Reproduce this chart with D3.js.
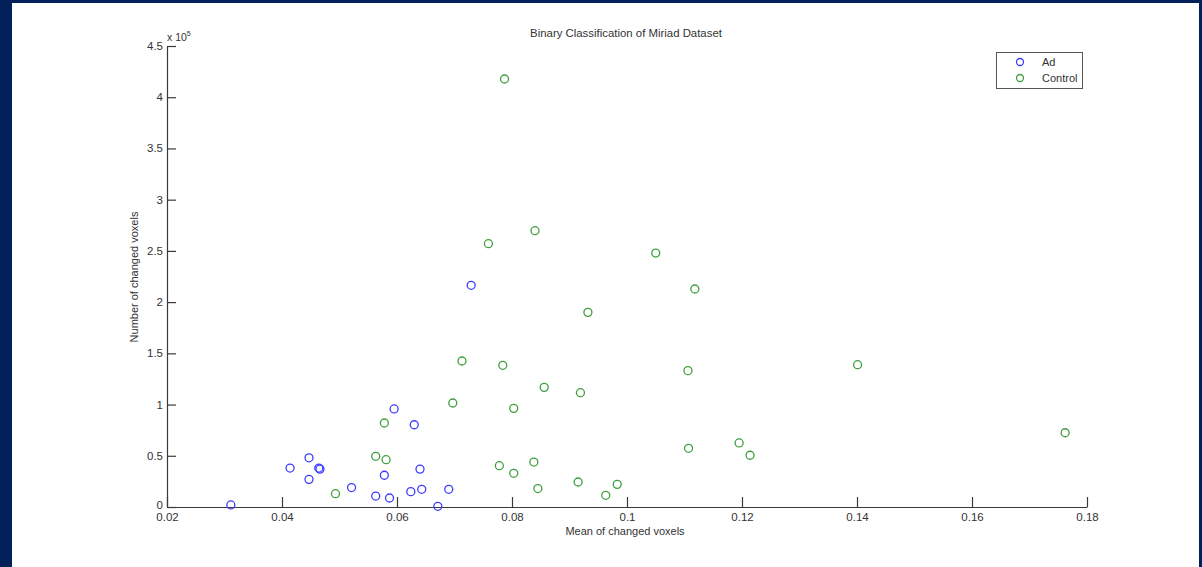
<!DOCTYPE html>
<html>
<head>
<meta charset="utf-8">
<script src="https://cdn.jsdelivr.net/npm/d3@7"></script>
<style>
  html, body { margin: 0; padding: 0; background: #fff; }
  svg { display: block; }
</style>
</head>
<body>
<svg id="chart" width="1202" height="567"></svg>
<script>
// Data (y values in units of 10^5 changed voxels)
const adX = [0.0311, 0.0414, 0.0447, 0.0447, 0.0464, 0.0466, 0.0521, 0.0563, 0.0578, 0.0587, 0.0595, 0.0630, 0.0624, 0.0640, 0.0643, 0.0671, 0.0690, 0.0729];
const adY = [0.02, 0.38, 0.48, 0.27, 0.38, 0.37, 0.19, 0.107, 0.31, 0.088, 0.957, 0.803, 0.15, 0.37, 0.173, 0.007, 0.173, 2.164];
const controlX = [0.0493, 0.0563, 0.0578, 0.0581, 0.0697, 0.0713, 0.0759, 0.0778, 0.0784, 0.0787, 0.0803, 0.0803, 0.0840, 0.0838, 0.0845, 0.0856, 0.0932, 0.0919, 0.0915, 0.0963, 0.0983, 0.1050, 0.1118, 0.1106, 0.1107, 0.1195, 0.1214, 0.1401, 0.1762];
const controlY = [0.13, 0.495, 0.82, 0.462, 1.015, 1.425, 2.57, 0.403, 1.383, 4.178, 0.963, 0.329, 2.697, 0.439, 0.18, 1.168, 1.90, 1.116, 0.244, 0.114, 0.221, 2.479, 2.128, 1.331, 0.573, 0.625, 0.505, 1.389, 0.725];
const xTicks = [0.02, 0.04, 0.06, 0.08, 0.1, 0.12, 0.14, 0.16, 0.18];
const yTicks = [0, 0.5, 1, 1.5, 2, 2.5, 3, 3.5, 4, 4.5];
const seriesNames = ["Ad", "Control"];
const seriesColors = ["#3c3cff", "#3f9f3f"];

const svg = d3.select("#chart");
const W = 1202, H = 567;

// navy frame
svg.append("rect").attr("x", 0).attr("y", 0).attr("width", W).attr("height", H).attr("fill", "#03205a");
svg.append("rect").attr("x", 12).attr("y", 3).attr("width", 1187).attr("height", H - 3).attr("fill", "#ffffff");

const x = d3.scaleLinear().domain([0.02, 0.18]).range([167, 1087]);
const y = d3.scaleLinear().domain([0, 4.5]).range([507, 46]);

const font = "Liberation Sans, Arial, Helvetica, sans-serif";
const axisColor = "#3a3a3a";

// x axis
const xAxis = d3.axisBottom(x).tickValues(xTicks).tickFormat(d3.format("~g")).tickSizeInner(-10).tickSizeOuter(0).tickPadding(5);
const gx = svg.append("g").attr("transform", "translate(0,507)").call(xAxis);
gx.select(".domain").attr("stroke", axisColor).attr("stroke-width", 1.2);
gx.selectAll(".tick line").attr("stroke", axisColor).attr("stroke-width", 1.2);
gx.selectAll(".tick text").attr("fill", "#333").style("font-family", font).style("font-size", "11.5px").attr("y", 6).attr("dy", "0.71em");

// y axis
const yAxis = d3.axisLeft(y).tickValues(yTicks).tickFormat(d3.format("~g")).tickSizeInner(-9).tickSizeOuter(0).tickPadding(3);
const gy = svg.append("g").attr("transform", "translate(167,0)").call(yAxis);
gy.select(".domain").attr("stroke", axisColor).attr("stroke-width", 1.2);
gy.selectAll(".tick line").attr("stroke", axisColor).attr("stroke-width", 1.2);
gy.selectAll(".tick text").attr("fill", "#333").style("font-family", font).style("font-size", "11.5px").attr("x", -4)
  .attr("dy", d => d === 0 ? "0.1em" : "0.3em");

// exponent label
const exp = svg.append("text").attr("x", 167).attr("y", 41).attr("fill", "#333").style("font-family", font).style("font-size", "10.5px");
exp.append("tspan").text("x 10");
exp.append("tspan").attr("dy", -5).style("font-size", "7px").text("5");

// title and labels
svg.append("text").attr("x", 626).attr("y", 37).attr("text-anchor", "middle").attr("fill", "#333")
  .style("font-family", font).style("font-size", "11.4px").text("Binary Classification of Miriad Dataset");
svg.append("text").attr("x", 625).attr("y", 535).attr("text-anchor", "middle").attr("fill", "#333")
  .style("font-family", font).style("font-size", "11px").text("Mean of changed voxels");
svg.append("text").attr("transform", "translate(138,277) rotate(-90)").attr("text-anchor", "middle").attr("fill", "#333")
  .style("font-family", font).style("font-size", "11px").text("Number of changed voxels");

// points
const series = [
  { xs: adX, ys: adY },
  { xs: controlX, ys: controlY }
];
series.forEach((s, i) => {
  svg.append("g").selectAll("circle").data(s.xs.map((v, j) => [v, s.ys[j]])).join("circle")
    .attr("cx", d => x(d[0])).attr("cy", d => y(d[1])).attr("r", 4)
    .attr("fill", "none").attr("stroke", seriesColors[i]).attr("stroke-width", 1.3);
});

// legend
const lg = svg.append("g");
lg.append("rect").attr("x", 996.5).attr("y", 52.5).attr("width", 86).attr("height", 36)
  .attr("fill", "#fff").attr("stroke", "#555").attr("stroke-width", 1);
seriesNames.forEach((name, i) => {
  const cy = 62 + i * 16;
  lg.append("circle").attr("cx", 1020).attr("cy", cy).attr("r", 3.5).attr("fill", "none")
    .attr("stroke", seriesColors[i]).attr("stroke-width", 1.3);
  lg.append("text").attr("x", 1042).attr("y", cy + 4).attr("fill", "#333")
    .style("font-family", font).style("font-size", "11px").text(name);
});
</script>
</body>
</html>
